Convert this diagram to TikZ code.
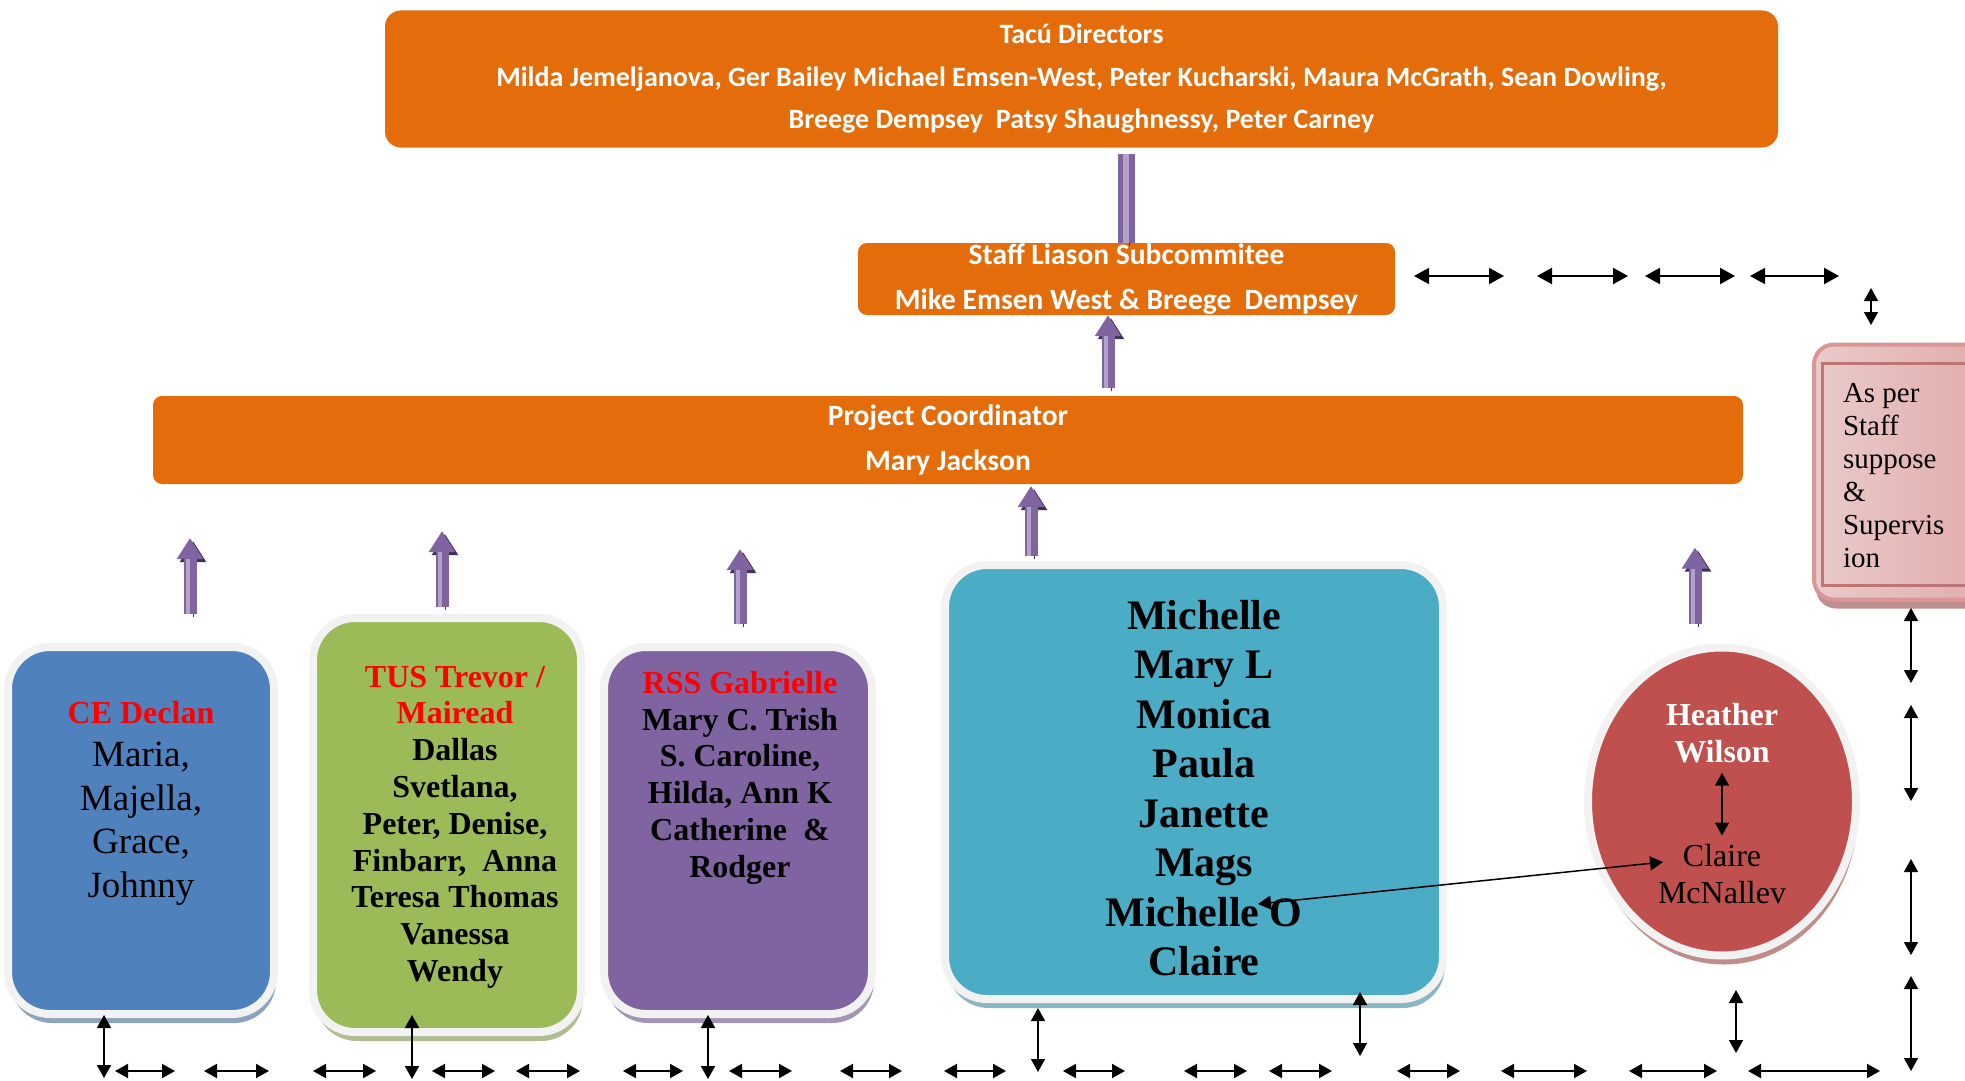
\documentclass[tikz,border=0pt]{standalone}
\usepackage{fontspec}
\setmainfont{Liberation Serif}
\newfontfamily\calfont{Carlito}
\usetikzlibrary{positioning,shapes.geometric,shadows,arrows.meta}

\definecolor{tacuorange}{HTML}{E46C0A}
\definecolor{ceblue}{HTML}{4F81BD}
\definecolor{tusgreen}{HTML}{9BBB59}
\definecolor{rsspurple}{HTML}{8064A2}
\definecolor{teamteal}{HTML}{4BACC6}
\definecolor{hwred}{HTML}{C0504D}
\definecolor{supplight}{HTML}{EACACA}
\definecolor{supppink}{HTML}{E0ABAA}
\definecolor{suppedge}{HTML}{D99694}
\definecolor{suppline}{HTML}{BC7474}
\definecolor{softedge}{HTML}{F2F2F2}
\definecolor{liftlight}{HTML}{B3A2C7}
\definecolor{liftdark}{HTML}{3F3151}

\tikzstyle{orangebox} = [rectangle, fill=tacuorange, text=white, align=center,
    font=\calfont\bfseries\fontsize{29.5}{45}\selectfont, inner sep=0pt]
\tikzstyle{softbox} = [draw=softedge, line width=8pt, inner sep=0pt]
\tikzstyle{card} = [softbox, rectangle, rounded corners=42pt]
\tikzstyle{names} = [align=center, inner sep=0pt, outer sep=0pt]
\tikzstyle{lift} = [line width=13pt, draw=rsspurple, -{Triangle[length=21pt,width=25pt]},
    preaction={draw=liftdark, transform canvas={shift={(3pt,-3pt)}}},
    postaction={draw=liftlight, line width=4pt, -, shorten >=21pt, transform canvas={xshift=-2pt}}]
\tikzstyle{liftbar} = [line width=17pt, draw=rsspurple,
    preaction={draw=liftdark, transform canvas={shift={(3pt,-3pt)}}},
    postaction={draw=liftlight, line width=6pt, transform canvas={xshift=-1pt}}]
\tikzstyle{link} = [draw, line width=1.5pt, <->, >={Triangle[length=13pt,width=14pt]}]
\tikzstyle{hlink} = [link, line width=2pt]
\tikzset{lowshadow/.style={drop shadow={shadow xshift=2pt, shadow yshift=-9pt, opacity=1, fill=#1}}}

\begin{document}
\begin{tikzpicture}[x=1pt, y=-1pt]
    \useasboundingbox (0,0) rectangle (1965,1081);

    \node [orangebox, rounded corners=16pt, minimum width=1393pt, minimum height=137pt,
        font=\calfont\bfseries\fontsize{28}{42.5}\selectfont] (dir) at (1081.5,79)
        {Tacú Directors\\Milda Jemeljanova, Ger Bailey Michael Emsen-West, Peter Kucharski, Maura McGrath, Sean Dowling,\\Breege Dempsey~ Patsy Shaughnessy, Peter Carney};
    \node [orangebox, rounded corners=9pt, minimum width=537pt, minimum height=72pt] (staff) at (1126.5,279)
        {Staff Liason Subcommitee\\Mike Emsen West \& Breege~ Dempsey};
    \node [orangebox, rounded corners=9pt, minimum width=1590pt, minimum height=88pt] (pc) at (948,440)
        {Project Coordinator\\Mary Jackson};

    \node [rectangle, rounded corners=20pt, draw=suppedge, line width=4pt, left color=supplight,
        right color=supppink, lowshadow=suppedge!70!gray, minimum width=180pt, minimum height=255pt] (supp) at (1904,472) {};
    \draw [draw=suppline, line width=3pt] (1822,363) rectangle (2000,585);
    \node [names, anchor=north west, align=left, font=\fontsize{29}{33}\selectfont] (supptext) at (1843,383)
        {As per\\Staff\\suppose\\\&\\Supervis\\ion};

    \node [card, fill=ceblue, lowshadow=ceblue!45!lightgray, minimum width=266pt, minimum height=367pt] (ce) at (141,830.5) {};
    \node [card, fill=tusgreen, lowshadow=tusgreen!45!lightgray, minimum width=268pt, minimum height=414pt] (tus) at (447,825) {};
    \node [card, fill=rsspurple, lowshadow=rsspurple!45!lightgray, minimum width=268pt, minimum height=367pt] (rss) at (738,830.5) {};
    \node [card, fill=teamteal, lowshadow=teamteal!45!lightgray, minimum width=498pt, minimum height=434pt] (team) at (1194,782) {};
    \node [softbox, ellipse, fill=hwred, lowshadow=hwred!45!lightgray, minimum width=268pt, minimum height=308pt] (hw) at (1722,801.5) {};

    \node [names, below=58pt of ce.north, font=\fontsize{37}{43.5}\selectfont] (cetext)
        {\textcolor{red}{\bfseries\fontsize{32}{42}\selectfont CE Declan}\\Maria,\\Majella,\\Grace,\\Johnny};
    \node [names, below=52pt of tus.north, xshift=8pt, font=\bfseries\fontsize{32}{36.8}\selectfont] (tustext)
        {\textcolor{red}{TUS Trevor /}\\\textcolor{red}{Mairead}\\Dallas\\Svetlana,\\Peter, Denise,\\Finbarr,~ Anna\\Teresa Thomas\\Vanessa\\Wendy};
    \node [names, below=28pt of rss.north, xshift=2pt, font=\bfseries\fontsize{32}{36.8}\selectfont] (rsstext)
        {\textcolor{red}{RSS Gabrielle}\\Mary C. Trish\\S. Caroline,\\Hilda, Ann K\\Catherine~ \&\\Rodger};
    \node [names, below=39pt of team.north, xshift=10pt, font=\bfseries\fontsize{42}{49.5}\selectfont] (teamtext)
        {Michelle\\Mary L\\Monica\\Paula\\Janette\\Mags\\Michelle O\\Claire};
    \node [names, below=60pt of hw.north, text=white, font=\bfseries\fontsize{32}{36.5}\selectfont] (hwtext)
        {Heather\\Wilson};
    \node [names, below=141pt of hwtext.north, font=\fontsize{32}{36.5}\selectfont] (cm)
        {Claire\\McNallev};
    \coordinate (mo) at (1258,904);

    \draw [liftbar, shorten <=6pt] (staff.north |- dir.south) -- (staff.north);
    \draw [lift] ([xshift=-18.5pt]staff.south) ++(0,73) -- ++(0,-73);
    \draw [lift] ([xshift=49pt,yshift=29pt]ce.north) -- ++(0,-76);
    \draw [lift] ([xshift=-5pt,yshift=7pt]tus.north) -- ++(0,-76);
    \draw [lift] ([xshift=2pt,yshift=19pt]rss.north) -- ++(0,-75);
    \draw [lift] ([xshift=-163pt,yshift=5pt]team.north) -- ++(0,-70);
    \draw [lift] ([xshift=-27pt,yshift=20pt]hw.north) -- ++(0,-76);

    \draw [link, shorten <=10pt, shorten >=9pt] (hwtext) -- (cm);
    \draw [link] (mo) -- ([xshift=5pt,yshift=12pt]cm.west);

    \foreach \a/\b in {1414/1504, 1537/1628, 1645/1735, 1750/1839}
        \draw [hlink, >={Triangle[length=15pt,width=16pt]}] (\a,276) -- (\b,276);
    \draw [link] (1871,288) -- (1871,325);

    \foreach \a/\b in {115/175, 204/269, 313/376, 432/495, 516/580, 623/683, 729/792, 840/902,
        944/1006, 1063/1125, 1184/1247, 1269/1332, 1397/1460, 1501/1587, 1629/1717, 1748/1880}
        \draw [hlink] (\a,1071) -- (\b,1071);
    \foreach \x/\a/\b in {104/1015/1078, 412/1015/1079, 708/1015/1079, 1038/1008/1072, 1360/992/1056,
        1736/990/1053, 1911/608/683, 1911/705/801, 1911/859/955, 1911/976/1071}
        \draw [link] (\x,\a) -- (\x,\b);
\end{tikzpicture}
\end{document}
